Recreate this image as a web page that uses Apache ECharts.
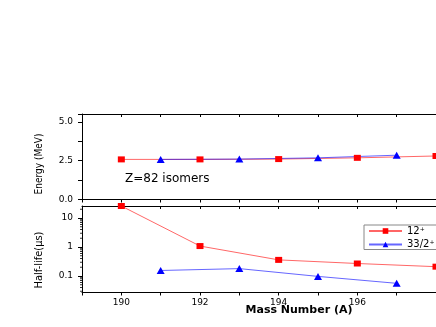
<!DOCTYPE html>
<html lang="en">
<head>
    <meta charset="utf-8">
    <title>Z=82 isomers</title>
    <script src="https://cdn.jsdelivr.net/npm/echarts@6.0.0/dist/echarts.min.js"></script>
    <style>
        html, body { margin: 0; padding: 0; background: #fff; }
        #main { width: 436px; height: 327px; }
    </style>
</head>
<body>
<div id="main"></div>
<script type="text/javascript">
    // mass numbers
    var mass12 = [190, 192, 194, 196, 198];
    var mass33 = [191, 193, 195, 197];
    // isomer energies (MeV)
    var energy12 = [2.58, 2.58, 2.60, 2.68, 2.80];
    var energy33 = [2.58, 2.60, 2.68, 2.85];
    // half-lives (us)
    var half12 = [26, 1.08, 0.36, 0.27, 0.21];
    var half33 = [0.155, 0.18, 0.097, 0.056];
    // tick values
    var massLabels = [190, 192, 194, 196];
    var energyLabels = [0, 2.5, 5];
    var halfMinor = [0.03, 0.04, 0.05, 0.06, 0.07, 0.08, 0.09,
        0.2, 0.3, 0.4, 0.5, 0.6, 0.7, 0.8, 0.9,
        2, 3, 4, 5, 6, 7, 8, 9, 20];

    var pairs = function (xs, ys) {
        return xs.map(function (x, i) { return [x, ys[i]]; });
    };

    var font = 'DejaVu Sans';
    var axisLine = {onZero: false, lineStyle: {color: '#000', width: 1}};

    function xAxis(grid, pos, inside, labels) {
        return {
            type: 'value', gridIndex: grid, position: pos, min: 189, max: 198, interval: 1,
            axisLine: axisLine,
            axisTick: {show: true, inside: inside, length: 3, lineStyle: {color: '#000'}},
            axisLabel: labels ? {show: true, customValues: massLabels, margin: 6, color: '#000', fontSize: 9, fontFamily: font} : {show: false},
            splitLine: {show: false}
        };
    }

    var myChart = echarts.init(document.getElementById('main'));
    var option = {
        animation: false,
        backgroundColor: '#fff',
        grid: [
            {left: 82, right: -17, top: 114, height: 85.5},
            {left: 82, right: -17, top: 206, height: 86.5}
        ],
        xAxis: [
            xAxis(0, 'bottom', false, false),
            xAxis(0, 'top', true, false),
            xAxis(1, 'bottom', false, true),
            xAxis(1, 'top', true, false)
        ],
        yAxis: [
            {
                type: 'value', gridIndex: 0, min: 0, max: 5.5, interval: 1.25,
                axisLine: axisLine,
                axisTick: {show: true, length: 4, lineStyle: {color: '#000'}},
                axisLabel: {
                    customValues: energyLabels, margin: 9, color: '#000', fontSize: 9, fontFamily: font,
                    formatter: function (v) { return v.toFixed(1); }
                },
                splitLine: {show: false}
            },
            {
                type: 'log', logBase: 10, gridIndex: 1, min: 0.027, max: 26, splitNumber: 3,
                axisLine: axisLine,
                axisTick: {show: true, length: 4, lineStyle: {color: '#000'}},
                axisLabel: {
                    margin: 9, color: '#000', fontSize: 9, fontFamily: font,
                    showMinLabel: false, showMaxLabel: false
                },
                splitLine: {show: false}
            }
        ],
        legend: {
            orient: 'vertical', left: 364, top: 225,
            backgroundColor: '#fff', borderColor: '#888', borderWidth: 1,
            padding: [1, 8, 0, 4], itemGap: 3.5, itemWidth: 33, itemHeight: 7,
            data: ['12+', '33/2+'],
            formatter: function (name) { return name.replace('+', '{sup|+}'); },
            textStyle: {
                color: '#000', fontSize: 10, lineHeight: 10, fontFamily: font,
                rich: {sup: {fontSize: 6, lineHeight: 10, verticalAlign: 'top', padding: [0, 0, 4, 0], fontFamily: font}}
            }
        },
        graphic: [
            {type: 'text', x: 39, y: 164, rotation: Math.PI / 2,
                style: {text: 'Energy (MeV)', font: '10px "Liberation Sans Narrow", "DejaVu Sans Condensed"', fill: '#000', textAlign: 'center', textVerticalAlign: 'middle'}},
            {type: 'text', x: 39, y: 260, rotation: Math.PI / 2,
                style: {text: 'Half-life(μs)', font: '11px "Liberation Sans Narrow", "DejaVu Sans Condensed"', fill: '#000', textAlign: 'center', textVerticalAlign: 'middle'}},
            {type: 'text', x: 299, y: 310,
                style: {text: 'Mass Number (A)', font: 'bold 11px "DejaVu Sans"', fill: '#000', textAlign: 'center', textVerticalAlign: 'middle'}},
            {type: 'text', x: 125, y: 179,
                style: {text: 'Z=82 isomers', font: '12px "DejaVu Sans"', fill: '#000', textAlign: 'left', textVerticalAlign: 'middle'}}
        ],
        series: [
            {
                name: '12+', type: 'line', xAxisIndex: 0, yAxisIndex: 0,
                data: pairs(mass12, energy12),
                symbol: 'rect', symbolSize: [7, 6],
                itemStyle: {color: '#ff0000'}, lineStyle: {color: '#ff0000', width: 1, opacity: 0.6}
            },
            {
                name: '33/2+', type: 'line', xAxisIndex: 0, yAxisIndex: 0,
                data: pairs(mass33, energy33),
                symbol: 'triangle', symbolSize: [8, 7],
                itemStyle: {color: '#0000ff'}, lineStyle: {color: '#0000ff', width: 1, opacity: 0.6}
            },
            {
                name: '12+', type: 'line', xAxisIndex: 2, yAxisIndex: 1,
                data: pairs(mass12, half12),
                symbol: 'rect', symbolSize: [7, 6],
                itemStyle: {color: '#ff0000'}, lineStyle: {color: '#ff0000', width: 1, opacity: 0.6}
            },
            {
                name: '33/2+', type: 'line', xAxisIndex: 2, yAxisIndex: 1,
                data: pairs(mass33, half33),
                symbol: 'triangle', symbolSize: [8, 7],
                itemStyle: {color: '#0000ff'}, lineStyle: {color: '#0000ff', width: 1, opacity: 0.6}
            },
            {
                // minor log ticks on the left axis, drawn as short marks at the axis edge
                type: 'scatter', xAxisIndex: 2, yAxisIndex: 1, silent: true, clip: false,
                data: halfMinor.map(function (v) { return [189, v]; }),
                symbol: 'rect', symbolSize: [2, 1], symbolOffset: [-1, 0],
                itemStyle: {color: '#000'}
            }
        ]
    };
    myChart.setOption(option);
</script>
</body>
</html>
